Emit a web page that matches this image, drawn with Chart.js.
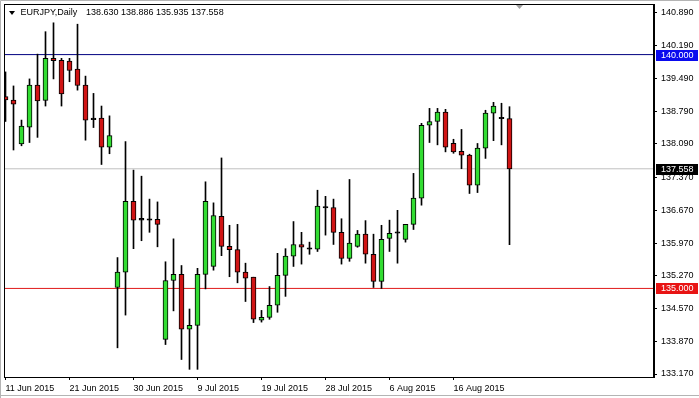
<!DOCTYPE html>
<html>
<head>
<meta charset="utf-8">
<script src="https://cdn.jsdelivr.net/npm/chart.js@4.4.0/dist/chart.umd.min.js"></script>
<style>
  html, body { margin: 0; padding: 0; background: #fff; }
  #wrap { width: 699px; height: 398px; }
</style>
</head>
<body>
<div id="wrap"><canvas id="chart" width="699" height="398"></canvas></div>
<script>
'use strict'

// EURJPY daily, 11 Jun - 24 Aug 2015 (bar index 0..63)
const symbol = 'EURJPY,Daily';
const opens  = [139.10, 139.03, 138.09, 138.45, 139.35, 139.02, 139.92, 139.88, 139.86, 139.69,
                139.35, 138.64, 138.64, 138.02, 135.02, 135.35, 136.86, 136.46, 136.49, 136.48,
                133.91, 135.17, 135.30, 134.13, 134.21, 135.30, 135.47, 136.54, 135.90, 135.83,
                135.35, 135.24, 134.32, 134.38, 134.64, 135.28, 135.69, 135.94, 135.87, 135.84,
                136.75, 136.73, 136.20, 135.64, 135.90, 136.16, 135.73, 135.15, 136.07, 136.21,
                136.05, 136.37, 136.93, 138.49, 138.57, 138.77, 138.10, 137.93, 137.85, 137.21,
                138.00, 138.75, 138.66, 138.630];
const highs  = [139.63, 139.33, 138.60, 139.48, 140.01, 140.49, 140.68, 139.92, 139.92, 140.65,
                139.54, 139.17, 138.90, 138.69, 135.66, 138.14, 137.53, 137.40, 136.91, 136.85,
                135.57, 136.06, 135.49, 134.56, 135.43, 137.28, 136.83, 137.79, 136.35, 136.37,
                135.54, 135.24, 134.53, 135.04, 135.75, 135.85, 136.43, 136.20, 135.99, 137.10,
                136.97, 136.91, 136.49, 137.33, 136.24, 136.45, 136.16, 136.35, 136.46, 136.67,
                136.37, 137.46, 138.53, 138.85, 138.85, 138.83, 138.19, 138.40, 137.87, 138.10,
                138.81, 138.98, 138.96, 138.886];
const lows   = [138.57, 137.96, 138.05, 138.12, 138.23, 138.90, 139.48, 138.90, 139.42, 139.24,
                138.17, 138.44, 137.65, 137.88, 133.73, 134.43, 135.85, 136.02, 136.20, 135.89,
                133.80, 134.52, 133.48, 133.27, 133.27, 134.99, 135.39, 135.70, 135.25, 135.12,
                134.72, 134.27, 134.28, 134.34, 134.49, 134.83, 135.47, 135.52, 135.73, 135.79,
                136.14, 135.94, 135.52, 135.58, 135.88, 135.54, 135.02, 135.00, 135.79, 135.54,
                135.99, 136.26, 136.78, 138.12, 138.07, 137.92, 137.89, 137.56, 137.03, 137.05,
                137.78, 138.16, 138.07, 135.935];
const closes = [139.03, 138.94, 138.47, 139.35, 139.01, 139.92, 139.87, 139.16, 139.66, 139.34,
                138.60, 138.61, 138.02, 138.27, 135.35, 136.86, 136.46, 136.50, 136.46, 136.37,
                135.17, 135.30, 134.13, 134.21, 135.30, 136.86, 136.56, 135.90, 135.83, 135.35,
                135.22, 134.34, 134.38, 134.64, 135.28, 135.69, 135.94, 135.88, 135.84, 136.76,
                136.72, 136.20, 135.64, 135.97, 136.16, 135.73, 135.15, 136.05, 136.18, 136.18,
                136.37, 136.93, 138.49, 138.57, 138.77, 138.02, 137.92, 137.85, 137.21, 138.00,
                138.75, 138.90, 138.63, 137.558];

// x axis labels (bar index -> text)
const dateIdx    = [0, 8, 16, 24, 32, 40, 48, 56];
const dateLabels = ['11 Jun 2015', '21 Jun 2015', '30 Jun 2015', '9 Jul 2015',
                    '19 Jul 2015', '28 Jul 2015', '6 Aug 2015', '16 Aug 2015'];
// price axis ticks
const priceTicks = [140.890, 140.190, 139.490, 138.790, 138.090, 137.370,
                    136.670, 135.970, 135.270, 134.570, 133.870, 133.170];
// horizontal levels
const levelValues = [140.000, 135.000];
const levelColors = ['#000080', '#e01a1a'];
const levelBoxColors = ['#0a0aee', '#e81414'];

const xMin = -0.1875, xMax = 81.0625;
const font = {family: '"Liberation Sans", Arial, sans-serif', size: 9};

const lastClose = closes[closes.length - 1];

const bodies = opens.map((o, i) => ({x: i, y: [o, closes[i]]}));
const wicks = lows.map((l, i) => ({x: i, y: [l, highs[i]]}));
const bodyColors = opens.map((o, i) => {
  const d = closes[i] - o;
  if (Math.abs(d) < 0.04) return '#000';
  return d > 0 ? '#32dc32' : '#d01414';
});

const levelSets = levelValues.map((v, i) => ({
  type: 'line',
  data: [{x: xMin, y: v}, {x: xMax, y: v}],
  borderColor: levelColors[i],
  borderWidth: 1,
  pointRadius: 0,
  order: 5
}));
levelSets.push({
  type: 'line',
  data: [{x: xMin, y: lastClose}, {x: xMax, y: lastClose}],
  borderColor: '#c0c0c0',
  borderWidth: 1,
  pointRadius: 0,
  order: 5
});

// frame, header and price boxes
const decor = {
  id: 'decor',
  beforeDraw(chart) {
    const c = chart.ctx;
    c.save();
    c.fillStyle = '#fff';
    c.fillRect(0, 0, chart.width, chart.height);
    c.strokeStyle = '#b4b4b4';
    c.lineWidth = 1;
    c.beginPath();
    c.moveTo(0.5, 398); c.lineTo(0.5, 0.5); c.lineTo(699, 0.5);
    c.moveTo(0, 395.5); c.lineTo(699, 395.5);
    c.stroke();
    c.restore();
  },
  afterDraw(chart) {
    const c = chart.ctx;
    const a = chart.chartArea;
    const y = chart.scales.y;
    c.save();
    c.strokeStyle = '#000';
    c.lineWidth = 1;
    c.strokeRect(a.left + 0.5, a.top + 0.5, a.right - a.left - 1, a.bottom - a.top);

    // header
    c.fillStyle = '#000';
    c.beginPath();
    c.moveTo(9, 11); c.lineTo(15, 11); c.lineTo(12, 15); c.closePath();
    c.fill();
    c.font = '9px "Liberation Sans", Arial, sans-serif';
    c.textBaseline = 'middle';
    c.fillText(symbol, 20.5, 13);
    const last = opens.length - 1;
    const ohlc = [opens[last], highs[last], lows[last], closes[last]].map(v => v.toFixed(3)).join(' ');
    c.fillText(ohlc, 86, 13);

    // chart shift marker
    c.fillStyle = '#a0a0a0';
    c.beginPath();
    c.moveTo(516, 5); c.lineTo(523, 5); c.lineTo(519.5, 9); c.closePath();
    c.fill();

    // price boxes on the right axis
    const boxes = levelValues.map((v, i) => ({v: v, bg: levelBoxColors[i]}));
    boxes.push({v: lastClose, bg: '#000'});
    boxes.forEach(b => {
      const py = Math.round(y.getPixelForValue(b.v));
      c.fillStyle = b.bg;
      c.fillRect(a.right + 2, py - 5, 42, 11);
      c.fillStyle = '#fff';
      c.fillText(b.v.toFixed(3), a.right + 7, py + 0.5);
    });
    c.restore();
  }
};

const ctx = document.getElementById('chart');
const myChart = new Chart(ctx, {
  type: 'bar',
  data: {
    datasets: [
      {
        data: bodies,
        backgroundColor: bodyColors,
        borderColor: '#000',
        borderWidth: 1,
        borderSkipped: false,
        barThickness: 5,
        minBarLength: 1,
        grouped: false,
        order: 1
      },
      {
        data: wicks,
        backgroundColor: '#000',
        borderWidth: 0,
        barThickness: 1,
        grouped: false,
        order: 2
      },
      ...levelSets
    ]
  },
  options: {
    responsive: false,
    animation: false,
    devicePixelRatio: 1,
    layout: { padding: { left: 4, top: 4, right: 0, bottom: 0 } },
    plugins: {
      legend: { display: false },
      tooltip: { enabled: false }
    },
    scales: {
      x: {
        type: 'linear',
        min: xMin,
        max: xMax,
        offset: false,
        bounds: 'data',
        grid: { drawOnChartArea: false, drawTicks: true, tickLength: 3, color: '#000', offset: false },
        border: { display: true, color: '#000' },
        ticks: {
          font: font,
          color: '#000',
          align: 'start',
          padding: 3,
          maxRotation: 0,
          autoSkip: false,
          callback: function(value) {
            const i = dateIdx.indexOf(value);
            return i >= 0 ? dateLabels[i] : '';
          }
        },
        afterBuildTicks: function(scale) {
          scale.ticks = dateIdx.map(v => ({value: v}));
        },
        afterFit: function(scale) {
          scale.height = 21;
          scale.paddingLeft = 0;
          scale.paddingRight = 0;
        }
      },
      y: {
        type: 'linear',
        position: 'right',
        min: 133.106,
        max: 141.082,
        bounds: 'data',
        grid: { drawOnChartArea: false, drawTicks: true, tickLength: 3, color: '#000' },
        border: { display: true, color: '#000' },
        ticks: {
          font: font,
          color: '#000',
          padding: 4,
          autoSkip: false,
          callback: function(value) {
            return value.toFixed(3);
          }
        },
        afterBuildTicks: function(scale) {
          scale.ticks = priceTicks.map(v => ({value: v}));
        },
        afterFit: function(scale) {
          scale.width = 45;
          scale.paddingTop = 0;
          scale.paddingBottom = 0;
        }
      }
    }
  },
  plugins: [decor]
});
</script>
</body>
</html>
